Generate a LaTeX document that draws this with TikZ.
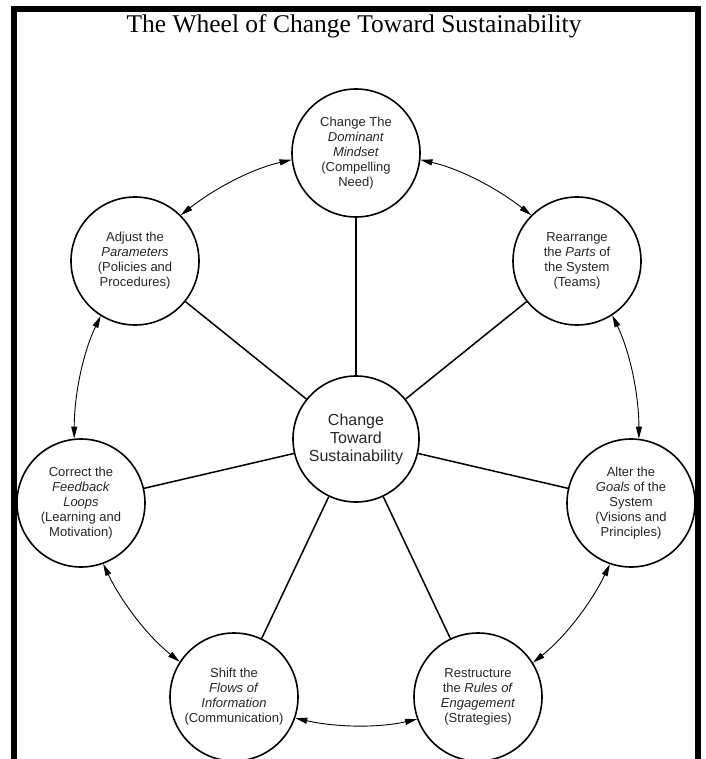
\documentclass[tikz,border=0pt]{standalone}
\usepackage{fontspec}
\setmainfont{Liberation Sans}
\newfontfamily\headingfont{Liberation Serif}
\usetikzlibrary{arrows.meta}

\begin{document}
\begin{tikzpicture}[x=1pt,y=1pt,
  ring/.style={circle,draw,line width=1.6pt,minimum size=128pt,inner sep=0pt,
    align=center,font=\fontsize{13}{15}\selectfont,text=black!85},
  hub/.style={ring,minimum size=126pt,font=\fontsize{16}{18}\selectfont},
  spoke/.style={line width=1.5pt},
  link/.style={line width=0.9pt,looseness=0.86,
    {Triangle[length=12pt,width=6pt]}-{Triangle[length=12pt,width=6pt]}},
  framebar/.style={fill=black}]

\useasboundingbox (0,0) rectangle (705,-759);

% heading
\node[anchor=base,font=\headingfont\fontsize{25.5}{28}\selectfont] (title) at (354,-33)
  {The Wheel of Change Toward Sustainability};

% hub and the seven levers around it
\node[hub] (hub) at (356,-439) {Change\\Toward\\Sustainability};
\node[ring] (mindset) at (356,-153)
  {Change The\\\textit{Dominant}\\\textit{Mindset}\\(Compelling\\Need)};
\node[ring] (parts) at (577,-261)
  {Rearrange\\the \textit{Parts} of\\the System\\(Teams)};
\node[ring] (goals) at (631,-503)
  {Alter the\\\textit{Goals} of the\\System\\(Visions and\\Principles)};
\node[ring] (rules) at (478,-697)
  {Restructure\\the \textit{Rules of}\\\textit{Engagement}\\(Strategies)};
\node[ring] (flows) at (234,-697)
  {Shift the\\\textit{Flows of}\\\textit{Information}\\(Communication)};
\node[ring] (loops) at (81,-503)
  {Correct the\\\textit{Feedback}\\\textit{Loops}\\(Learning and\\Motivation)};
\node[ring] (params) at (135,-261)
  {Adjust the\\\textit{Parameters}\\(Policies and\\Procedures)};

% spokes
\foreach \n in {mindset,parts,goals,rules,flows,loops,params}
  \draw[spoke] (hub) -- (\n);

% two-way arrows along the rim
\draw[link] (mindset.-6.45)  to[out=-12.9,in=141.5]  (parts.135);
\draw[link] (parts.-57.9)    to[out=-64.3,in=90]     (goals.83.6);
\draw[link] (goals.-109.3)   to[out=-115.8,in=38.6]  (rules.32.2);
\draw[link] (rules.-160.7)   to[out=-167.2,in=-12.8] (flows.-19.3);
\draw[link] (flows.147.8)    to[out=141.4,in=-64.2]  (loops.-70.7);
\draw[link] (loops.96.4)     to[out=90,in=-115.7]    (params.-122.1);
\draw[link] (params.45)      to[out=38.5,in=192.9]   (mindset.186.5);

% border bars
\fill[framebar] (11,-6) rectangle (17,-759);
\fill[framebar] (11,-6) rectangle (701,-12);
\fill[framebar] (695,-6) rectangle (701,-759);
\end{tikzpicture}
\end{document}
